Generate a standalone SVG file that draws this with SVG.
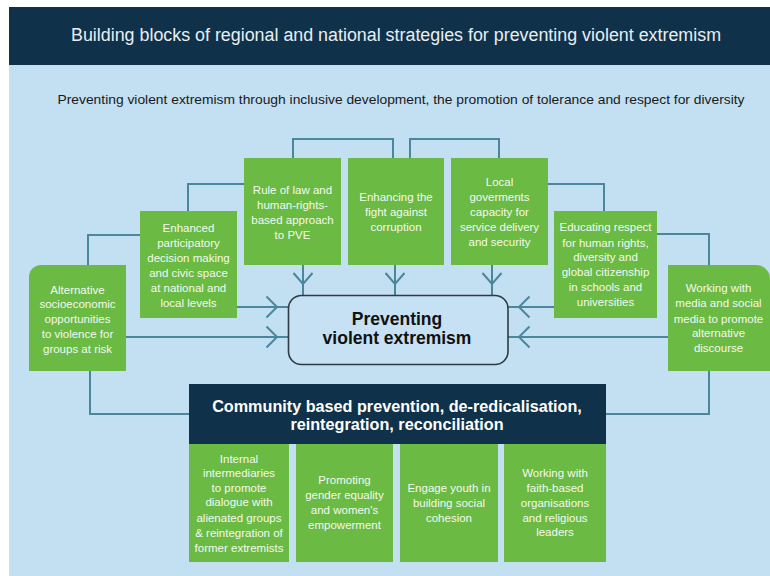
<svg xmlns="http://www.w3.org/2000/svg" width="770" height="576" viewBox="0 0 770 576">
<defs>
<style>
.bg{fill:#c3dff2}
.navy{fill:#0f3149}
.box{fill:#6aba44}
.t{font-family:"Liberation Sans","DejaVu Sans",sans-serif;font-size:11.5px;fill:#f4f9ef;text-anchor:middle}
.c{fill:none;stroke:#4a879c;stroke-width:2}
.ah{fill:none;stroke:#4a879c;stroke-width:2;stroke-linejoin:miter}
.hb{font-family:"Liberation Sans","DejaVu Sans",sans-serif;font-weight:bold;text-anchor:middle}
</style>
</defs>
<rect x="0" y="0" width="770" height="576" fill="#ffffff"/>
<rect class="bg" x="9" y="65" width="761" height="511"/>
<rect class="navy" x="9" y="7" width="761" height="58"/>
<text x="396" y="41" font-family="'Liberation Sans','DejaVu Sans',sans-serif" font-size="18" fill="#e8eef3" text-anchor="middle" textLength="650" lengthAdjust="spacingAndGlyphs">Building blocks of regional and national strategies for preventing violent extremism</text>
<text x="401" y="104" font-family="'Liberation Sans','DejaVu Sans',sans-serif" font-size="13" fill="#1a1a1a" text-anchor="middle" textLength="687" lengthAdjust="spacingAndGlyphs">Preventing violent extremism through inclusive development, the promotion of tolerance and respect for diversity</text>

<g id="connectors">
<path class="c" d="M293 158 V139 H393 V158"/>
<path class="c" d="M410 158 V139 H499 V158"/>
<path class="c" d="M188 211 V184 H244"/>
<path class="c" d="M88 265 V235 H140"/>
<path class="c" d="M548 184 H604 V211"/>
<path class="c" d="M657 234 H709 V265"/>
<path class="c" d="M90 371 V414 H189"/>
<path class="c" d="M709 371 V414 H606"/>
<path class="c" d="M303 265 V295"/>
<path class="ah" d="M293.5 273 L303 284 L312.5 273"/>
<path class="c" d="M395 265 V295"/>
<path class="ah" d="M385.5 273 L395 284 L404.5 273"/>
<path class="c" d="M492 265 V295"/>
<path class="ah" d="M482.5 273 L492 284 L501.5 273"/>
<path class="c" d="M237 307 H289"/>
<path class="ah" d="M266.5 296.5 L277 307 L266.5 317.5"/>
<path class="c" d="M126 337 H289"/>
<path class="ah" d="M266.5 326.5 L277 337 L266.5 347.5"/>
<path class="c" d="M554 307 H508"/>
<path class="ah" d="M529.5 296.5 L519 307 L529.5 317.5"/>
<path class="c" d="M668 337 H508"/>
<path class="ah" d="M529.5 326.5 L519 337 L529.5 347.5"/>
</g>

<g id="center">
<rect x="288.5" y="295.5" width="219.5" height="69" rx="13" fill="#c6e1f3" stroke="#2e3a44" stroke-width="1.6"/>
<text class="hb" x="397" y="325" font-size="17.5" fill="#111">Preventing</text>
<text class="hb" x="397" y="344" font-size="17.5" fill="#111">violent extremism</text>
</g>

<g id="rule-of-law">
<rect class="box" x="244" y="158" width="97" height="107"/>
<text class="t" x="292.5" y="194">Rule of law and</text>
<text class="t" x="292.5" y="209">human-rights-</text>
<text class="t" x="292.5" y="224">based approach</text>
<text class="t" x="292.5" y="239">to PVE</text>
</g>

<g id="corruption">
<rect class="box" x="348" y="158" width="96" height="107"/>
<text class="t" x="396" y="201">Enhancing the</text>
<text class="t" x="396" y="216">fight against</text>
<text class="t" x="396" y="231">corruption</text>
</g>

<g id="local-gov">
<rect class="box" x="451" y="158" width="97" height="107"/>
<text class="t" x="499.5" y="186">Local</text>
<text class="t" x="499.5" y="201">goverments</text>
<text class="t" x="499.5" y="216">capacity for</text>
<text class="t" x="499.5" y="231">service delivery</text>
<text class="t" x="499.5" y="246">and security</text>
</g>

<g id="participatory">
<rect class="box" x="140" y="211" width="97" height="107"/>
<text class="t" x="188.5" y="232">Enhanced</text>
<text class="t" x="188.5" y="247">participatory</text>
<text class="t" x="188.5" y="262">decision making</text>
<text class="t" x="188.5" y="277">and civic space</text>
<text class="t" x="188.5" y="292">at national and</text>
<text class="t" x="188.5" y="307">local levels</text>
</g>

<g id="educating">
<rect class="box" x="554" y="211" width="103" height="107"/>
<text class="t" x="605.5" y="231">Educating respect</text>
<text class="t" x="605.5" y="247">for human rights,</text>
<text class="t" x="605.5" y="261">diversity and</text>
<text class="t" x="605.5" y="276">global citizenship</text>
<text class="t" x="605.5" y="291">in schools and</text>
<text class="t" x="605.5" y="306">universities</text>
</g>

<g id="alternative">
<path class="box" d="M29 371 V277 A12 12 0 0 1 41 265 H126 V371 Z"/>
<text class="t" x="77.5" y="294">Alternative</text>
<text class="t" x="77.5" y="308">socioeconomic</text>
<text class="t" x="77.5" y="323">opportunities</text>
<text class="t" x="77.5" y="338">to violence for</text>
<text class="t" x="77.5" y="353">groups at risk</text>
</g>

<g id="media">
<path class="box" d="M668 265 H756 A14 14 0 0 1 770 279 V371 H668 Z"/>
<text class="t" x="718.5" y="292">Working with</text>
<text class="t" x="718.5" y="307">media and social</text>
<text class="t" x="718.5" y="323">media to promote</text>
<text class="t" x="718.5" y="337">alternative</text>
<text class="t" x="718.5" y="352">discourse</text>
</g>

<g id="community">
<rect class="navy" x="189" y="384" width="417" height="60"/>
<text class="hb" x="397" y="412" font-size="16.2" fill="#ffffff">Community based prevention, de-redicalisation,</text>
<text class="hb" x="397" y="430" font-size="16.2" fill="#ffffff">reintegration, reconciliation</text>
</g>

<g id="intermediaries">
<rect class="box" x="189" y="444" width="100" height="118"/>
<text class="t" x="239" y="463">Internal</text>
<text class="t" x="239" y="477">intermediaries</text>
<text class="t" x="239" y="492">to promote</text>
<text class="t" x="239" y="506">dialogue with</text>
<text class="t" x="239" y="522">alienated groups</text>
<text class="t" x="239" y="537">&amp; reintegration of</text>
<text class="t" x="239" y="552">former extremists</text>
</g>

<g id="gender">
<rect class="box" x="296" y="444" width="97" height="118"/>
<text class="t" x="344.5" y="484">Promoting</text>
<text class="t" x="344.5" y="499">gender equality</text>
<text class="t" x="344.5" y="514">and women's</text>
<text class="t" x="344.5" y="529">empowerment</text>
</g>

<g id="youth">
<rect class="box" x="400" y="444" width="98" height="118"/>
<text class="t" x="449" y="492">Engage youth in</text>
<text class="t" x="449" y="507">building social</text>
<text class="t" x="449" y="522">cohesion</text>
</g>

<g id="faith">
<rect class="box" x="504" y="444" width="102" height="118"/>
<text class="t" x="555" y="477">Working with</text>
<text class="t" x="555" y="492">faith-based</text>
<text class="t" x="555" y="507">organisations</text>
<text class="t" x="555" y="522">and religious</text>
<text class="t" x="555" y="536">leaders</text>
</g>
</svg>
